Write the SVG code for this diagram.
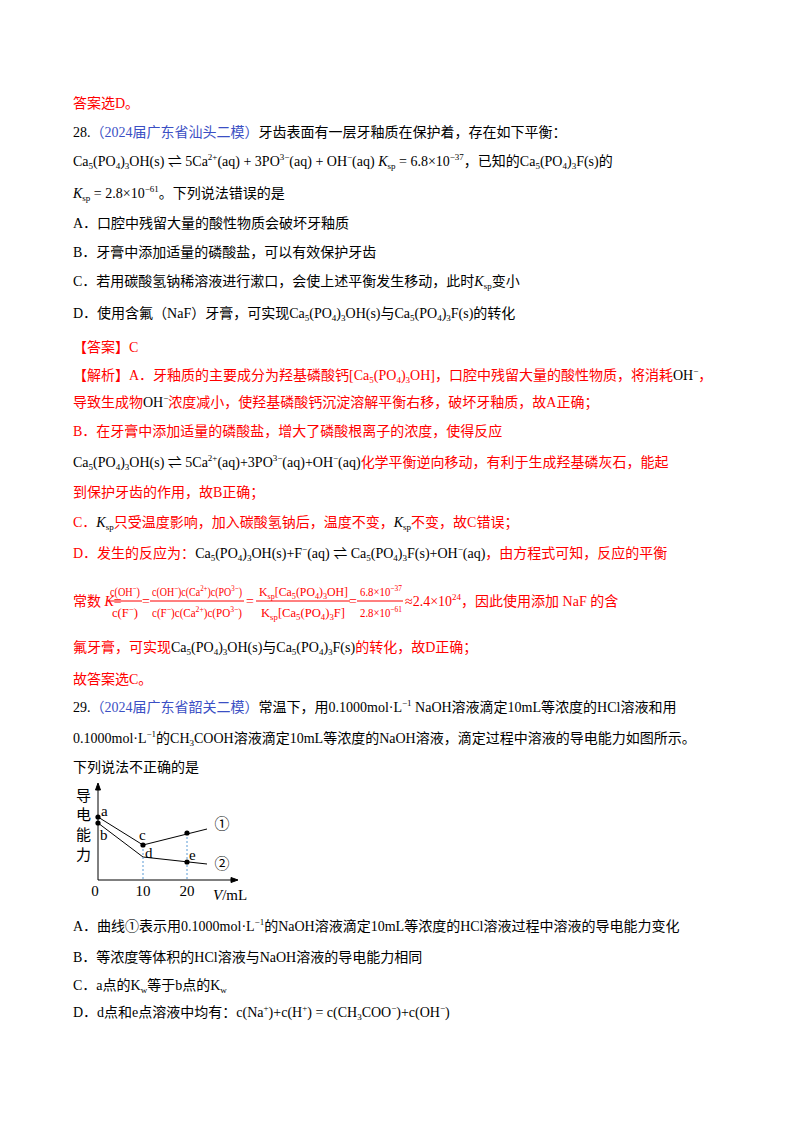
<svg xmlns="http://www.w3.org/2000/svg" width="800" height="1132" viewBox="0 0 800 1132">
<style>
text{font-family:"Liberation Serif","Noto Sans CJK SC",serif;font-size:14px;fill:#000}
.r{fill:#ff0000}
.b{fill:#3b4fc4}
.s{font-size:9px}
.f{font-size:13px}
.g{font-family:"Liberation Serif","Noto Sans CJK SC",serif;font-size:15px}
</style>
<rect width="800" height="1132" fill="#fff"/>
<g id="text">
<text x="73" y="108" class="r">答案选D。</text>
<text x="73" y="137">28.<tspan class="b">（2024届广东省汕头二模）</tspan>牙齿表面有一层牙釉质在保护着，存在如下平衡：</text>
<text x="73" y="166">Ca<tspan class="s" dy="3">5</tspan><tspan dy="-3">(PO</tspan><tspan class="s" dy="3">4</tspan><tspan dy="-3">)</tspan><tspan class="s" dy="3">3</tspan><tspan dy="-3">OH(s) ⇌ 5Ca</tspan><tspan class="s" dy="-6">2+</tspan><tspan dy="6">(aq) + 3PO</tspan><tspan class="s" dy="-6">3−</tspan><tspan dy="6">(aq) + OH</tspan><tspan class="s" dy="-6">−</tspan><tspan dy="6">(aq)   </tspan><tspan font-style="italic">K</tspan><tspan class="s" dy="3">sp</tspan><tspan dy="-3"> = 6.8×10</tspan><tspan class="s" dy="-6">−37</tspan><tspan dy="6">，已知的Ca</tspan><tspan class="s" dy="3">5</tspan><tspan dy="-3">(PO</tspan><tspan class="s" dy="3">4</tspan><tspan dy="-3">)</tspan><tspan class="s" dy="3">3</tspan><tspan dy="-3">F(s)的</tspan></text>
<text x="73" y="198"><tspan font-style="italic">K</tspan><tspan class="s" dy="3">sp</tspan><tspan dy="-3"> = 2.8×10</tspan><tspan class="s" dy="-6">−61</tspan><tspan dy="6">。下列说法错误的是</tspan></text>
<text x="73" y="228">A．口腔中残留大量的酸性物质会破坏牙釉质</text>
<text x="73" y="257">B．牙膏中添加适量的磷酸盐，可以有效保护牙齿</text>
<text x="73" y="286">C．若用碳酸氢钠稀溶液进行漱口，会使上述平衡发生移动，此时<tspan font-style="italic">K</tspan><tspan class="s" dy="3">sp</tspan><tspan dy="-3">变小</tspan></text>
<text x="73" y="318">D．使用含氟（NaF）牙膏，可实现Ca<tspan class="s" dy="3">5</tspan><tspan dy="-3">(PO</tspan><tspan class="s" dy="3">4</tspan><tspan dy="-3">)</tspan><tspan class="s" dy="3">3</tspan><tspan dy="-3">OH(s)与Ca</tspan><tspan class="s" dy="3">5</tspan><tspan dy="-3">(PO</tspan><tspan class="s" dy="3">4</tspan><tspan dy="-3">)</tspan><tspan class="s" dy="3">3</tspan><tspan dy="-3">F(s)的转化</tspan></text>
<text x="73" y="352" class="r">【答案】C</text>
<text x="73" y="380" class="r">【解析】A．牙釉质的主要成分为羟基磷酸钙[Ca<tspan class="s" dy="3">5</tspan><tspan dy="-3">(PO</tspan><tspan class="s" dy="3">4</tspan><tspan dy="-3">)</tspan><tspan class="s" dy="3">3</tspan><tspan dy="-3">OH]，口腔中残留大量的酸性物质，将消耗</tspan><tspan fill="#000">OH</tspan><tspan class="s" fill="#000" dy="-6">−</tspan><tspan dy="6">，</tspan></text>
<text x="73" y="407" class="r">导致生成物<tspan fill="#000">OH</tspan><tspan class="s" fill="#000" dy="-6">−</tspan><tspan dy="6">浓度减小，使羟基磷酸钙沉淀溶解平衡右移，破坏牙釉质，故A正确；</tspan></text>
<text x="73" y="436" class="r">B．在牙膏中添加适量的磷酸盐，增大了磷酸根离子的浓度，使得反应</text>
<text x="73" y="467"><tspan>Ca</tspan><tspan class="s" dy="3">5</tspan><tspan dy="-3">(PO</tspan><tspan class="s" dy="3">4</tspan><tspan dy="-3">)</tspan><tspan class="s" dy="3">3</tspan><tspan dy="-3">OH(s) ⇌ 5Ca</tspan><tspan class="s" dy="-6">2+</tspan><tspan dy="6">(aq)+3PO</tspan><tspan class="s" dy="-6">3−</tspan><tspan dy="6">(aq)+OH</tspan><tspan class="s" dy="-6">−</tspan><tspan dy="6">(aq)</tspan><tspan class="r">化学平衡逆向移动，有利于生成羟基磷灰石，能起</tspan></text>
<text x="73" y="497" class="r">到保护牙齿的作用，故B正确；</text>
<text x="73" y="527" class="r">C．<tspan fill="#000" font-style="italic">K</tspan><tspan class="s" fill="#000" dy="3">sp</tspan><tspan dy="-3">只受温度影响，加入碳酸氢钠后，温度不变，</tspan><tspan fill="#000" font-style="italic">K</tspan><tspan class="s" fill="#000" dy="3">sp</tspan><tspan dy="-3">不变，故C错误；</tspan></text>
<text x="73" y="558" class="r">D．发生的反应为：<tspan fill="#000">Ca</tspan><tspan class="s" fill="#000" dy="3">5</tspan><tspan fill="#000" dy="-3">(PO</tspan><tspan class="s" fill="#000" dy="3">4</tspan><tspan fill="#000" dy="-3">)</tspan><tspan class="s" fill="#000" dy="3">3</tspan><tspan fill="#000" dy="-3">OH(s)+F</tspan><tspan class="s" fill="#000" dy="-6">−</tspan><tspan fill="#000" dy="6">(aq) ⇌ Ca</tspan><tspan class="s" fill="#000" dy="3">5</tspan><tspan fill="#000" dy="-3">(PO</tspan><tspan class="s" fill="#000" dy="3">4</tspan><tspan fill="#000" dy="-3">)</tspan><tspan class="s" fill="#000" dy="3">3</tspan><tspan fill="#000" dy="-3">F(s)+OH</tspan><tspan class="s" fill="#000" dy="-6">−</tspan><tspan fill="#000" dy="6">(aq)</tspan>，由方程式可知，反应的平衡</text>
<text x="73" y="606" class="r">常数 <tspan font-style="italic">K</tspan>=</text>
<g id="bars" fill="none" stroke="#ff0000" stroke-width="1">
<line x1="108" y1="601" x2="142" y2="601"/><line x1="150" y1="601" x2="244" y2="601"/>
<line x1="256" y1="601" x2="350" y2="601"/><line x1="357" y1="601" x2="403" y2="601"/>
</g>
<text x="110" y="596" class="r f" textLength="30" lengthAdjust="spacingAndGlyphs">c(OH<tspan class="s" dy="-5">−</tspan><tspan dy="5">)</tspan></text>
<text x="112" y="617" class="r f" textLength="26" lengthAdjust="spacingAndGlyphs">c(F<tspan class="s" dy="-5">−</tspan><tspan dy="5">)</tspan></text>
<text x="146" y="606" class="r" text-anchor="middle">=</text>
<text x="152" y="596" class="r f" textLength="90" lengthAdjust="spacingAndGlyphs">c(OH<tspan class="s" dy="-5">−</tspan><tspan dy="5">)c(Ca</tspan><tspan class="s" dy="-5">2+</tspan><tspan dy="5">)c(PO</tspan><tspan class="s" dy="-5">3−</tspan><tspan dy="5">)</tspan></text>
<text x="152" y="617" class="r f" textLength="90" lengthAdjust="spacingAndGlyphs">c(F<tspan class="s" dy="-5">−</tspan><tspan dy="5">)c(Ca</tspan><tspan class="s" dy="-5">2+</tspan><tspan dy="5">)c(PO</tspan><tspan class="s" dy="-5">3−</tspan><tspan dy="5">)</tspan></text>
<text x="250" y="606" class="r" text-anchor="middle">=</text>
<text x="259" y="596" class="r f" textLength="89" lengthAdjust="spacingAndGlyphs">K<tspan class="s" dy="3">sp</tspan><tspan dy="-3">[Ca</tspan><tspan class="s" dy="3">5</tspan><tspan dy="-3">(PO</tspan><tspan class="s" dy="3">4</tspan><tspan dy="-3">)</tspan><tspan class="s" dy="3">3</tspan><tspan dy="-3">OH]</tspan></text>
<text x="261" y="617" class="r f" textLength="84" lengthAdjust="spacingAndGlyphs">K<tspan class="s" dy="3">sp</tspan><tspan dy="-3">[Ca</tspan><tspan class="s" dy="3">5</tspan><tspan dy="-3">(PO</tspan><tspan class="s" dy="3">4</tspan><tspan dy="-3">)</tspan><tspan class="s" dy="3">3</tspan><tspan dy="-3">F]</tspan></text>
<text x="353" y="606" class="r" text-anchor="middle">=</text>
<text x="360" y="596" class="r f" textLength="42" lengthAdjust="spacingAndGlyphs">6.8×10<tspan class="s" dy="-5">−37</tspan></text>
<text x="360" y="617" class="r f" textLength="42" lengthAdjust="spacingAndGlyphs">2.8×10<tspan class="s" dy="-5">−61</tspan></text>
<text x="405" y="606" class="r">≈2.4×10<tspan class="s" dy="-6">24</tspan><tspan dy="6">，因此使用添加 NaF 的含</tspan></text>
<text x="73" y="652" class="r">氟牙膏，可实现<tspan fill="#000">Ca</tspan><tspan class="s" fill="#000" dy="3">5</tspan><tspan fill="#000" dy="-3">(PO</tspan><tspan class="s" fill="#000" dy="3">4</tspan><tspan fill="#000" dy="-3">)</tspan><tspan class="s" fill="#000" dy="3">3</tspan><tspan fill="#000" dy="-3">OH(s)与Ca</tspan><tspan class="s" fill="#000" dy="3">5</tspan><tspan fill="#000" dy="-3">(PO</tspan><tspan class="s" fill="#000" dy="3">4</tspan><tspan fill="#000" dy="-3">)</tspan><tspan class="s" fill="#000" dy="3">3</tspan><tspan fill="#000" dy="-3">F(s)</tspan>的转化，故D正确；</text>
<text x="73" y="684" class="r">故答案选C。</text>
<text x="73" y="712">29.<tspan class="b">（2024届广东省韶关二模）</tspan>常温下，用0.1000mol·L<tspan class="s" dy="-6">−1</tspan><tspan dy="6"> NaOH溶液滴定10mL等浓度的HCl溶液和用</tspan></text>
<text x="73" y="743">0.1000mol·L<tspan class="s" dy="-6">−1</tspan><tspan dy="6">的CH</tspan><tspan class="s" dy="3">3</tspan><tspan dy="-3">COOH溶液滴定10mL等浓度的NaOH溶液，滴定过程中溶液的导电能力如图所示。</tspan></text>
<text x="73" y="772">下列说法不正确的是</text>
<text x="73" y="931">A．曲线①表示用0.1000mol·L<tspan class="s" dy="-6">−1</tspan><tspan dy="6">的NaOH溶液滴定10mL等浓度的HCl溶液过程中溶液的导电能力变化</tspan></text>
<text x="73" y="962">B．等浓度等体积的HCl溶液与NaOH溶液的导电能力相同</text>
<text x="73" y="990">C．a点的K<tspan class="s" dy="3">w</tspan><tspan dy="-3">等于b点的K</tspan><tspan class="s" dy="3">w</tspan></text>
<text x="73" y="1017">D．d点和e点溶液中均有：c(Na<tspan class="s" dy="-6">+</tspan><tspan dy="6">)+c(H</tspan><tspan class="s" dy="-6">+</tspan><tspan dy="6">) = c(CH</tspan><tspan class="s" dy="3">3</tspan><tspan dy="-3">COO</tspan><tspan class="s" dy="-6">−</tspan><tspan dy="6">)+c(OH</tspan><tspan class="s" dy="-6">−</tspan><tspan dy="6">)</tspan></text>
</g>
<g id="graph">
<g id="connectors" fill="none" stroke="#000" stroke-width="1">
<polyline points="98,880 98,786"/><polygon points="98,783 95.5,790 100.5,790" fill="#000"/>
<polyline points="98,880 235,880"/><polygon points="238,880 231,877.5 231,882.5" fill="#000"/>
<polyline points="98,817 143,845 207,829"/>
<polyline points="98,823 143,857 207,864"/>
<line x1="143" y1="845" x2="143" y2="880" stroke="#5b9bd5" stroke-dasharray="2,2"/>
<line x1="187" y1="833" x2="187" y2="880" stroke="#5b9bd5" stroke-dasharray="2,2"/>
</g>
<g fill="#000">
<circle cx="98" cy="817" r="2.6"/><circle cx="98" cy="823" r="2.6"/>
<circle cx="143" cy="845" r="2.6"/><circle cx="187" cy="833" r="2.6"/><circle cx="187" cy="862" r="2.6"/>
</g>
<text class="g" x="76" y="801">导</text><text class="g" x="76" y="820">电</text>
<text class="g" x="76" y="840">能</text><text class="g" x="76" y="860">力</text>
<text class="g" x="101" y="816">a</text><text class="g" x="100" y="840">b</text>
<text class="g" x="139" y="840">c</text><text class="g" x="145" y="858">d</text>
<text class="g" x="189" y="860">e</text>
<text class="g" x="222" y="829" text-anchor="middle">①</text>
<text class="g" x="222" y="869" text-anchor="middle">②</text>
<text class="g" x="95" y="896" text-anchor="middle">0</text>
<text class="g" x="143" y="896" text-anchor="middle">10</text>
<text class="g" x="187" y="896" text-anchor="middle">20</text>
<text class="g" x="213" y="900"><tspan font-style="italic">V</tspan>/mL</text>
</g>
</svg>
